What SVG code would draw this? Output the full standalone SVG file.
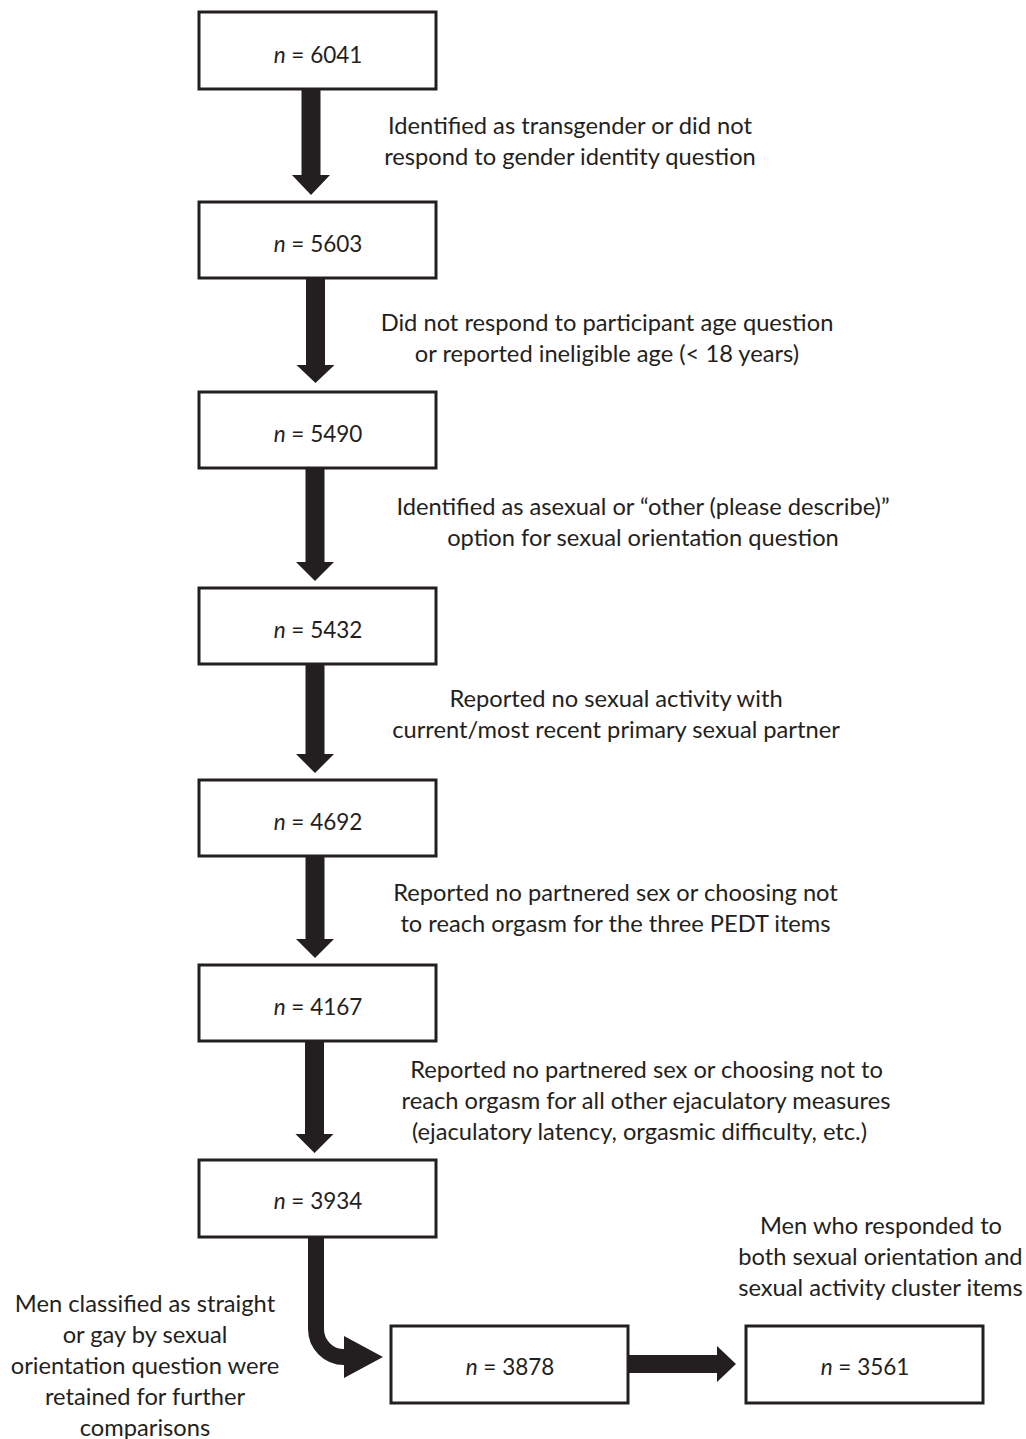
<svg xmlns="http://www.w3.org/2000/svg" width="1026" height="1439" viewBox="0 0 1026 1439">
<style>
.box{fill:#fff;stroke:#231f20;stroke-width:3}
.arr{fill:#231f20}
.t{font-family:Lato,"Open Sans",sans-serif;font-size:23.7px;fill:#231f20;text-anchor:middle}
.b{font-family:Lato,"Open Sans",sans-serif;font-size:22.5px;fill:#231f20;text-anchor:middle}
.n{font-style:italic}
</style>
<rect width="1026" height="1439" fill="#fff"/>
<g id="connectors">
<polygon class="arr" points="301.5,89 320.5,89 320.5,175 330,175 311,195 292,175 301.5,175"/>
<polygon class="arr" points="306,278 325,278 325,365 334.5,365 315.5,383 296.5,365 306,365"/>
<polygon class="arr" points="305.5,468 324.5,468 324.5,562 334,562 315,581 296,562 305.5,562"/>
<polygon class="arr" points="305.5,664 324.5,664 324.5,754 334,754 315,773 296,754 305.5,754"/>
<polygon class="arr" points="305.5,856 324.5,856 324.5,939 334,939 315,958 296,939 305.5,939"/>
<polygon class="arr" points="305,1041 324,1041 324,1134 333.5,1134 314.5,1153 295.5,1134 305,1134"/>
<path d="M316,1237 V1329 A28,28 0 0 0 344,1357 H350" fill="none" stroke="#231f20" stroke-width="16"/>
<polygon class="arr" points="344,1336 383,1357 344,1378"/>
<polygon class="arr" points="628,1355 717,1355 717,1346 736,1364 717,1382 717,1373 628,1373"/>
</g>
<g id="node1"><rect class="box" x="199" y="12" width="237" height="77"/><text class="b" x="318" y="63"><tspan class="n">n</tspan> = 6041</text></g>
<g id="node2"><rect class="box" x="199" y="202" width="237" height="76"/><text class="b" x="318" y="252"><tspan class="n">n</tspan> = 5603</text></g>
<g id="node3"><rect class="box" x="199" y="392" width="237" height="76"/><text class="b" x="318" y="442"><tspan class="n">n</tspan> = 5490</text></g>
<g id="node4"><rect class="box" x="199" y="588" width="237" height="76"/><text class="b" x="318" y="638"><tspan class="n">n</tspan> = 5432</text></g>
<g id="node5"><rect class="box" x="199" y="780" width="237" height="76"/><text class="b" x="318" y="830"><tspan class="n">n</tspan> = 4692</text></g>
<g id="node6"><rect class="box" x="199" y="965" width="237" height="76"/><text class="b" x="318" y="1015"><tspan class="n">n</tspan> = 4167</text></g>
<g id="node7"><rect class="box" x="199" y="1160" width="237" height="77"/><text class="b" x="318" y="1209"><tspan class="n">n</tspan> = 3934</text></g>
<g id="node8"><rect class="box" x="391" y="1326" width="237" height="77"/><text class="b" x="510" y="1375"><tspan class="n">n</tspan> = 3878</text></g>
<g id="node9"><rect class="box" x="746" y="1326" width="237" height="77"/><text class="b" x="865" y="1375"><tspan class="n">n</tspan> = 3561</text></g>
<g id="labels">
<text class="t" x="570" y="134">Identified as transgender or did not</text>
<text class="t" x="570" y="165">respond to gender identity question</text>
<text class="t" x="607" y="331">Did not respond to participant age question</text>
<text class="t" x="607" y="362">or reported ineligible age (&lt; 18 years)</text>
<text class="t" x="643" y="515">Identified as asexual or “other (please describe)”</text>
<text class="t" x="643" y="546">option for sexual orientation question</text>
<text class="t" x="616" y="707">Reported no sexual activity with</text>
<text class="t" x="616" y="738">current/most recent primary sexual partner</text>
<text class="t" x="615.5" y="901">Reported no partnered sex or choosing not</text>
<text class="t" x="615.5" y="932">to reach orgasm for the three PEDT items</text>
<text class="t" x="646.5" y="1078">Reported no partnered sex or choosing not to</text>
<text class="t" x="646" y="1109">reach orgasm for all other ejaculatory measures</text>
<text class="t" x="639.5" y="1140">(ejaculatory latency, orgasmic difficulty, etc.)</text>
<text class="t" x="881" y="1234">Men who responded to</text>
<text class="t" x="880.5" y="1265">both sexual orientation and</text>
<text class="t" x="880.5" y="1296">sexual activity cluster items</text>
<text class="t" x="145" y="1312">Men classified as straight</text>
<text class="t" x="145" y="1343">or gay by sexual</text>
<text class="t" x="145" y="1374">orientation question were</text>
<text class="t" x="145" y="1405">retained for further</text>
<text class="t" x="145" y="1436">comparisons</text>
</g>
</svg>
